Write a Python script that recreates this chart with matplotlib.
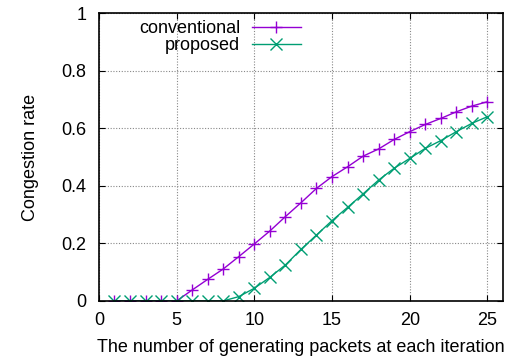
import numpy as np
import matplotlib
matplotlib.use('Agg')
import matplotlib.pyplot as plt

# data
packets = np.arange(1, 26)
conventional = [0, 0, 0, 0, 0, 0.038, 0.075, 0.111, 0.154, 0.198,
                0.243, 0.293, 0.341, 0.391, 0.432, 0.466, 0.503, 0.528,
                0.561, 0.588, 0.613, 0.634, 0.657, 0.677, 0.692]
proposed = [0, 0, 0, 0, 0, 0, 0, 0, 0.015, 0.044,
            0.082, 0.125, 0.179, 0.229, 0.279, 0.325, 0.372, 0.420,
            0.461, 0.495, 0.530, 0.557, 0.588, 0.617, 0.640]
xticks = [0, 5, 10, 15, 20, 25]
yticks = [0, 0.2, 0.4, 0.6, 0.8, 1]
ytick_labels = ['0', '0.2', '0.4', '0.6', '0.8', '1']

plt.rcParams['font.family'] = ['Liberation Sans', 'DejaVu Sans']
plt.rcParams['font.size'] = 13

fig = plt.figure(figsize=(5.18, 3.63), dpi=100)
ax = fig.add_axes([0.191, 0.171, 0.780, 0.793])

ax.plot(packets, conventional, color='#9400D3', lw=1, marker='+',
        ms=9, mew=1, label='conventional')
ax.plot(packets, proposed, color='#009E73', lw=1, marker='x',
        ms=8, mew=1, label='proposed')

ax.set_xlim(0, 26)
ax.set_ylim(0, 1)
ax.set_xticks(xticks)
ax.set_yticks(yticks)
ax.set_yticklabels(ytick_labels)
ax.tick_params(direction='in', top=True, right=True, length=4, width=0.8,
               colors='black')
ax.tick_params(axis='y', pad=9)
ax.tick_params(axis='x', pad=8)
ax.grid(True, color='#888888', linestyle=(0, (1, 1.5)), linewidth=0.8)
for s in ax.spines.values():
    s.set_linewidth(1.2)

ax.set_xlabel('The number of generating packets at each iteration', labelpad=7)
ax.set_ylabel('Congestion rate', labelpad=16)

ax.legend(loc='upper left', bbox_to_anchor=(0.063, 1.025), frameon=False,
          markerfirst=False, handlelength=2.7, handletextpad=0.65,
          labelspacing=0.0, borderpad=0.3, fontsize=13)

fig.savefig('out.png', dpi=100)
